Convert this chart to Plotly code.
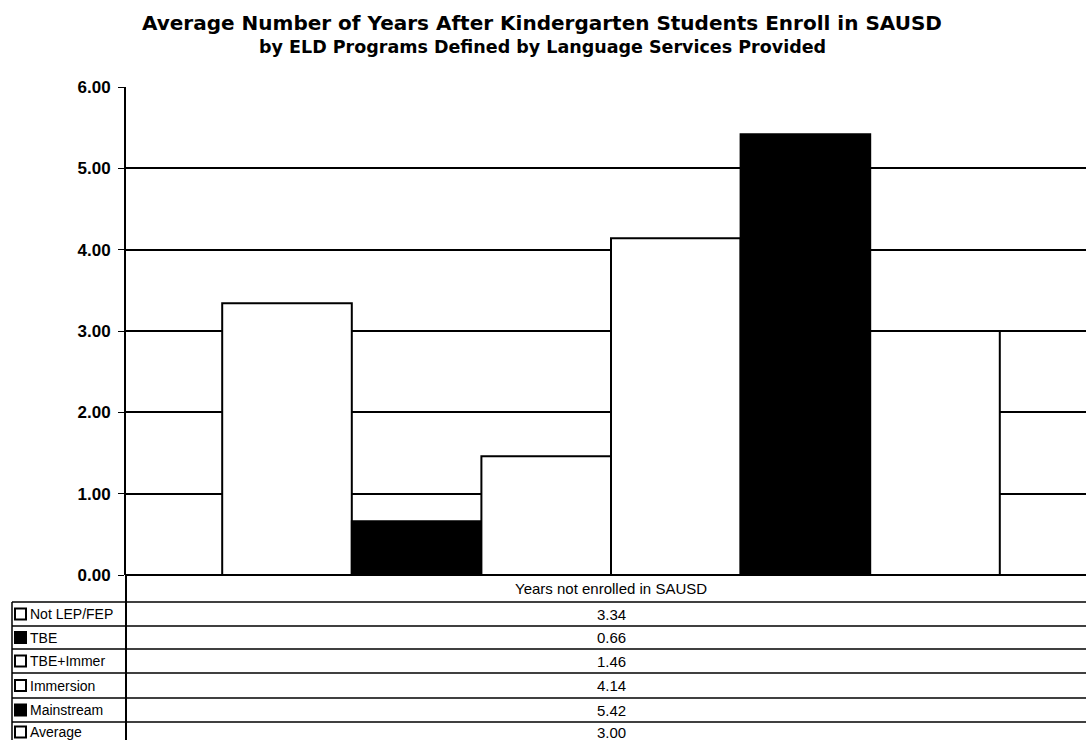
import plotly.graph_objects as go

categories = ["Years not enrolled in SAUSD"]
series_names = ["Not LEP/FEP", "TBE", "TBE+Immer", "Immersion", "Mainstream", "Average"]
series_values = [3.34, 0.66, 1.46, 4.14, 5.42, 3.00]
series_colors = ["white", "black", "white", "white", "black", "white"]
tick_vals = [0, 1, 2, 3, 4, 5, 6]
tick_text = ["0.00", "1.00", "2.00", "3.00", "4.00", "5.00", "6.00"]

W, H = 1086, 740
L, R_EDGE, TOP, BOT = 126, 1086, 87, 575
FONT = "Liberation Sans, Arial, sans-serif"
TFONT = "DejaVu Sans, Liberation Sans, sans-serif"

def px(x):
    return (x - L) / (R_EDGE - L)

def py(y):
    return (BOT - y) / (BOT - TOP)

fig = go.Figure()
for name, val, col in zip(series_names, series_values, series_colors):
    fig.add_trace(go.Bar(
        x=categories, y=[val], name=name,
        marker=dict(color=col, line=dict(color="black", width=2)),
        showlegend=False,
    ))

shapes = []
annotations = []
row_lines = [602, 626, 649, 673, 698, 722]
for yl in row_lines:
    shapes.append(dict(type="line", xref="paper", yref="paper",
                       x0=px(12), x1=px(1086), y0=py(yl), y1=py(yl),
                       line=dict(color="black", width=1.5)))
shapes.append(dict(type="line", xref="paper", yref="paper",
                   x0=px(12), x1=px(12), y0=py(602), y1=py(745),
                   line=dict(color="black", width=1.5)))
shapes.append(dict(type="line", xref="paper", yref="paper",
                   x0=px(126), x1=px(126), y0=py(575), y1=py(745),
                   line=dict(color="black", width=2)))

annotations.append(dict(text=categories[0], xref="paper", yref="paper",
                        x=px(611), y=py(588), showarrow=False,
                        xanchor="center", yanchor="middle",
                        font=dict(family=FONT, size=15, color="black")))
row_centers = [614, 637.5, 661, 685.5, 710, 732]
for i, (name, val, col) in enumerate(zip(series_names, series_values, series_colors)):
    yc = row_centers[i]
    shapes.append(dict(type="rect", xref="paper", yref="paper",
                       x0=px(15), x1=px(26), y0=py(yc - 5.5), y1=py(yc + 5.5),
                       fillcolor=col, line=dict(color="black", width=2)))
    annotations.append(dict(text=name, xref="paper", yref="paper",
                            x=px(28), y=py(yc), showarrow=False,
                            xanchor="left", yanchor="middle",
                            font=dict(family=FONT, size=14, color="black")))
    annotations.append(dict(text=f"{val:.2f}", xref="paper", yref="paper",
                            x=px(611), y=py(yc), showarrow=False,
                            xanchor="center", yanchor="middle",
                            font=dict(family=FONT, size=15, color="black")))

annotations.append(dict(text="<b>Average Number of Years After Kindergarten Students Enroll in SAUSD</b>",
                        xref="paper", yref="paper", x=px(542), y=py(23),
                        showarrow=False, xanchor="center", yanchor="middle",
                        font=dict(family=TFONT, size=20, color="black")))
annotations.append(dict(text="<b>by ELD Programs Defined by Language Services Provided</b>",
                        xref="paper", yref="paper", x=px(542), y=py(47),
                        showarrow=False, xanchor="center", yanchor="middle",
                        font=dict(family=TFONT, size=17.5, color="black")))

fig.update_layout(
    width=W, height=H,
    margin=dict(l=L, r=W - R_EDGE, t=TOP, b=H - BOT, pad=0),
    paper_bgcolor="white", plot_bgcolor="white",
    barmode="group", bargap=0.19, bargroupgap=0,
    xaxis=dict(range=[-485 / 960, 475 / 960], showticklabels=False,
               showgrid=False, zeroline=False, showline=False, ticks=""),
    yaxis=dict(range=[0, 6], tickvals=tick_vals, ticktext=tick_text,
               showgrid=True, gridcolor="black", gridwidth=1.5,
               showline=True, linecolor="black", linewidth=2,
               zeroline=True, zerolinecolor="black", zerolinewidth=1.5,
               ticks="outside", ticklen=6, tickcolor="black",
               ticklabelstandoff=4,
               tickfont=dict(family=FONT, size=17, color="black", weight="bold")),
    shapes=shapes, annotations=annotations,
    font=dict(family=FONT, color="black"),
)

fig.write_html("out.html")
